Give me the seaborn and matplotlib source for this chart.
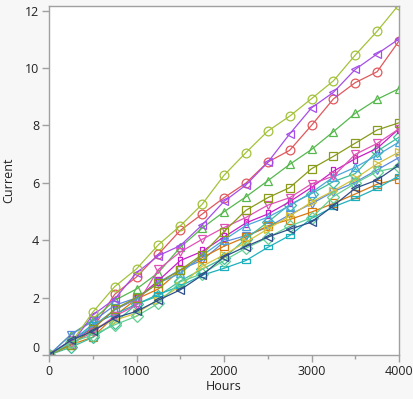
import numpy as np
import pandas as pd
import matplotlib
matplotlib.use("Agg")
import matplotlib.pyplot as plt
import seaborn as sns

hours = [0, 250, 500, 750, 1000, 1250, 1500, 1750, 2000, 2250, 2500,
         2750, 3000, 3250, 3500, 3750, 4000]

unit_1 = [0, 0.47, 0.93, 2.11, 2.72, 3.51, 4.34, 4.91, 5.48, 5.99, 6.72, 7.13, 8.00, 8.92, 9.49, 9.87, 10.94]
unit_2 = [0, 0.71, 1.22, 1.90, 2.30, 2.87, 3.75, 4.42, 4.99, 5.51, 6.07, 6.64, 7.16, 7.78, 8.42, 8.91, 9.28]
unit_3 = [0, 0.71, 1.17, 1.73, 1.99, 2.53, 2.97, 3.30, 3.94, 4.16, 4.45, 4.89, 5.27, 5.69, 6.02, 6.45, 6.88]
unit_4 = [0, 0.36, 0.62, 1.36, 1.95, 2.30, 2.95, 3.39, 3.79, 4.11, 4.50, 4.72, 4.98, 5.28, 5.61, 5.95, 6.14]
unit_5 = [0, 0.27, 0.61, 1.11, 1.77, 2.06, 2.58, 2.99, 3.38, 4.05, 4.63, 5.24, 5.62, 6.04, 6.32, 7.10, 7.59]
unit_6 = [0, 0.36, 1.39, 1.95, 2.86, 3.46, 3.81, 4.53, 5.35, 5.92, 6.71, 7.70, 8.61, 9.15, 9.95, 10.49, 11.01]
unit_7 = [0, 0.36, 0.92, 1.21, 1.46, 1.93, 2.39, 3.09, 3.49, 3.93, 4.39, 4.84, 5.33, 5.72, 6.15, 6.66, 7.07]
unit_8 = [0, 0.46, 1.07, 1.42, 1.77, 2.11, 2.40, 2.78, 3.02, 3.29, 3.75, 4.16, 4.76, 5.16, 5.46, 5.81, 6.24]
unit_9 = [0, 0.51, 0.93, 1.57, 1.96, 2.59, 3.29, 3.61, 4.11, 4.60, 4.91, 5.34, 5.84, 6.40, 6.84, 7.20, 7.88]
unit_10 = [0, 0.41, 1.49, 2.38, 3.00, 3.84, 4.50, 5.25, 6.26, 7.05, 7.80, 8.32, 8.93, 9.55, 10.45, 11.28, 12.21]
unit_11 = [0, 0.44, 1.00, 1.57, 1.96, 2.51, 2.84, 3.47, 4.01, 4.51, 4.80, 5.20, 5.66, 6.20, 6.54, 6.96, 7.42]
unit_12 = [0, 0.39, 0.80, 1.35, 1.74, 2.98, 3.59, 4.03, 4.44, 4.79, 5.22, 5.48, 5.96, 6.23, 6.99, 7.37, 7.88]
unit_13 = [0, 0.35, 0.90, 1.60, 2.00, 2.50, 2.96, 3.50, 4.30, 5.04, 5.48, 5.83, 6.49, 6.92, 7.38, 7.84, 8.09]
unit_14 = [0, 0.44, 0.70, 1.05, 1.35, 1.80, 2.55, 2.83, 3.29, 3.72, 4.09, 4.49, 4.78, 5.52, 5.98, 6.39, 6.55]
unit_15 = [0, 0.51, 0.83, 1.29, 1.52, 1.91, 2.27, 2.78, 3.42, 3.78, 4.11, 4.38, 4.63, 5.20, 5.81, 6.10, 6.62]

units = [unit_1, unit_2, unit_3, unit_4, unit_5, unit_6, unit_7, unit_8,
         unit_9, unit_10, unit_11, unit_12, unit_13, unit_14, unit_15]
unit_names = [str(i + 1) for i in range(len(units))]

colors = ["#e0585c", "#55b84d", "#5a8ae0", "#d9780f", "#3dbd9c",
          "#a64ee8", "#d4c23c", "#1fb0bd", "#c81ec8", "#a3c23a",
          "#4aa6dc", "#e052b6", "#8a9a1a", "#62d092", "#2f4f8a"]

# JMP-like marker cycle: open shapes plus wide / tall rectangles
wide_rect = [(-1, -0.5), (1, -0.5), (1, 0.5), (-1, 0.5), (-1, -0.5)]
tall_rect = [(-0.5, -1), (0.5, -1), (0.5, 1), (-0.5, 1), (-0.5, -1)]
marker_cycle = ["o", "^", "v", "s", "D", "<", ">", wide_rect, tall_rect]
markers = [marker_cycle[i % 9] for i in range(len(units))]

rows = []
for name, vals in zip(unit_names, units):
    for h, v in zip(hours, vals):
        rows.append({"Hours": h, "Current": v, "Unit": name})
df = pd.DataFrame(rows)

sns.set_theme(style="white")
plt.rcParams["font.family"] = ["Open Sans", "DejaVu Sans"]

fig = plt.figure(figsize=(4.14, 3.99), dpi=100, facecolor="#f7f7f7")
ax = fig.add_axes([49 / 414, 1 - 355 / 399, 350 / 414, 349.3 / 399])
ax.set_facecolor("white")

sns.lineplot(data=df, x="Hours", y="Current", hue="Unit", style="Unit",
             palette=colors, markers=markers, dashes=False, ax=ax,
             linewidth=0.9, markersize=6.3, legend=False)

for line in ax.lines:
    line.set_markerfacecolor("none")
    line.set_markeredgecolor(line.get_color())
    line.set_markeredgewidth(0.9)

ax.set_xlim(0, 4000)
ax.set_ylim(0, 12.17)
ax.set_xticks([0, 1000, 2000, 3000, 4000])
ax.set_xticks([500, 1500, 2500, 3500], minor=True)
ax.set_yticks([0, 2, 4, 6, 8, 10, 12])

for s in ax.spines.values():
    s.set_color("#a0a0a0")
    s.set_linewidth(1)
ax.tick_params(which="major", direction="out", length=5, width=1,
               color="#a0a0a0", labelsize=9, labelcolor="#222222", pad=2,
               bottom=True, left=True)
ax.tick_params(which="minor", direction="out", length=3, width=1,
               color="#a0a0a0", bottom=True)
ax.set_xlabel("Hours", fontsize=9, color="#222222", labelpad=2)
ax.set_ylabel("Current", fontsize=9, color="#222222", labelpad=7)

# bottom y label sits a bit higher, as in the original
ax.get_yticklabels()[0].set_verticalalignment("bottom")

fig.savefig("out.png", dpi=100, facecolor=fig.get_facecolor())
